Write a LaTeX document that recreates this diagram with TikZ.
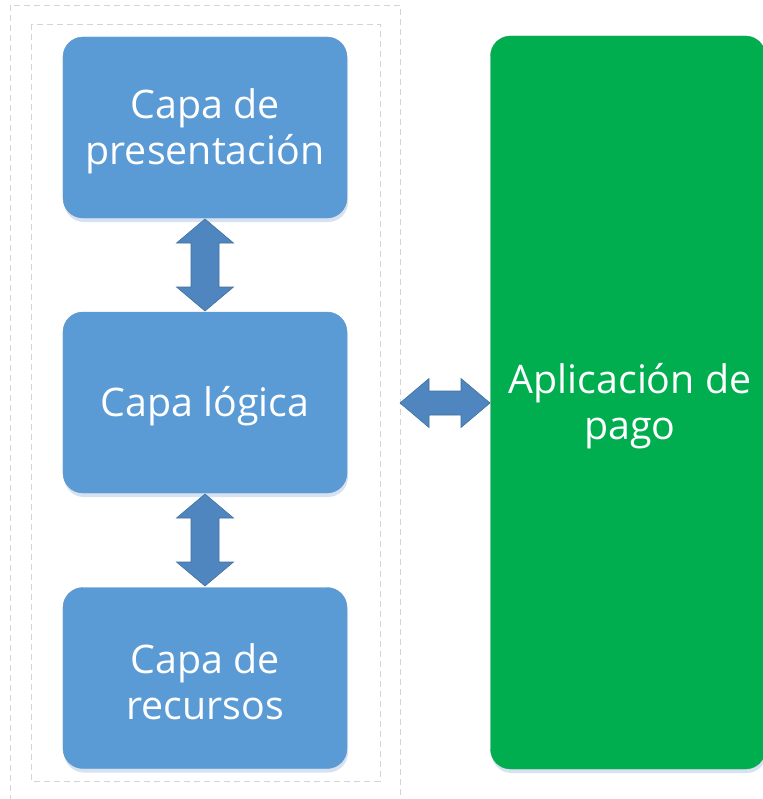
\documentclass[tikz,border=0pt]{standalone}
\usepackage{fontspec}
\setmainfont{Open Sans}
\usetikzlibrary{shadows}
\definecolor{boxblue}{HTML}{5B9BD5}
\definecolor{arrowblue}{HTML}{4F86C0}
\definecolor{arrowline}{HTML}{41719C}
\definecolor{paygreen}{HTML}{00AE4F}
\definecolor{shadowblue}{HTML}{D6E2F2}
\definecolor{dashgray}{HTML}{D4D4D4}
\begin{document}
\begin{tikzpicture}[x=1bp,y=-1bp,
  boxtext/.style={align=center, text=white, font=\fontsize{39.5}{46}\selectfont, yshift=-4bp},
  layer/.style={rectangle, rounded corners=20bp, fill=boxblue, draw=boxblue!80!gray, line width=0.4bp,
    minimum width=284bp, minimum height=181bp,
    drop shadow={fill=shadowblue, opacity=1, shadow xshift=1bp, shadow yshift=-4bp},
    label={[boxtext]center:#1}},
  paybox/.style={rectangle, rounded corners=20bp, fill=paygreen, draw=paygreen!80!gray, line width=0.4bp,
    minimum width=275bp, minimum height=733bp,
    drop shadow={fill=shadowblue, opacity=1, shadow xshift=1bp, shadow yshift=-4bp},
    label={[boxtext, xshift=2bp]center:#1}},
  blockarrow/.style={fill=arrowblue, draw=arrowline, line width=0.6bp, line join=miter},
  frame/.style={draw=dashgray, line width=0.8bp, dash pattern=on 6bp off 4bp}
]
\clip (0,0) rectangle (763,799);
\fill[white] (0,0) rectangle (763,799);
% dashed frames
\draw[frame] (10,5) rectangle (400,830);
\draw[frame] (31,24) rectangle (380,781);
% layer boxes
\node[layer={Capa de\\presentación}] (pres) at (205,127.5) {};
\node[layer={Capa lógica}] (logic) at (205,402.5) {};
\node[layer={Capa de\\recursos}] (res) at (205,678) {};
\node[paybox={Aplicación de\\pago}] (pay) at (628,402.5) {};
% vertical double arrow 1
\coordinate (a1t) at (205,219);
\coordinate (a1b) at (205,311);
\draw[blockarrow] (a1t) -- ++(28.5,24) -- ++(-14.5,0) -- ++(0,44) -- ++(14.5,0) -- (a1b)
  -- ++(-28.5,-24) -- ++(14.5,0) -- ++(0,-44) -- ++(-14.5,0) -- cycle;
% vertical double arrow 2
\coordinate (a2t) at (205,494);
\coordinate (a2b) at (205,586);
\draw[blockarrow] (a2t) -- ++(28.5,24) -- ++(-14.5,0) -- ++(0,44) -- ++(14.5,0) -- (a2b)
  -- ++(-28.5,-24) -- ++(14.5,0) -- ++(0,-44) -- ++(-14.5,0) -- cycle;
% horizontal double arrow
\coordinate (a3l) at (400,403);
\coordinate (a3r) at (490,403);
\draw[blockarrow] (a3l) -- ++(29,-24.5) -- ++(0,12.5) -- ++(32,0) -- ++(0,-12.5) -- (a3r)
  -- ++(-29,24.5) -- ++(0,-12.5) -- ++(-32,0) -- ++(0,12.5) -- cycle;
\end{tikzpicture}
\end{document}
